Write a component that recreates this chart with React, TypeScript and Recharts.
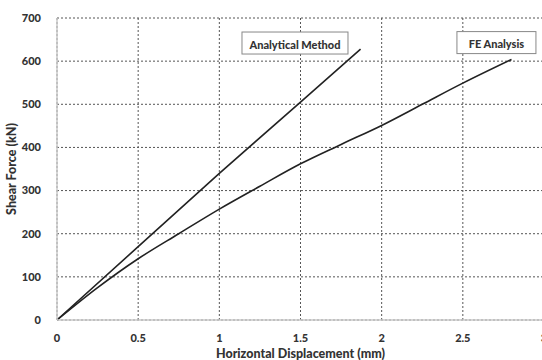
import { LineChart, Line, XAxis, YAxis, CartesianGrid, ReferenceDot } from "recharts";

// displacement (mm) / shear force (kN)
const analyticalX = [0, 0.5, 1, 1.5, 1.87];
const analyticalY = [0, 170, 340, 505, 628];
const feX = [0, 0.25, 0.5, 0.75, 1, 1.25, 1.5, 1.75, 2, 2.25, 2.5, 2.8];
const feY = [0, 75, 142, 200, 257, 310, 362, 407, 451, 500, 549, 604];

const xTicks = [0, 0.5, 1, 1.5, 2, 2.5, 3];
const yTicks = [0, 100, 200, 300, 400, 500, 600, 700];

const seriesNames = ["Analytical Method", "FE Analysis"];

const analytical = analyticalX.map((x, i) => ({ x, y: analyticalY[i] }));
const fe = feX.map((x, i) => ({ x, y: feY[i] }));

// where the label boxes sit, in data units
const boxAt = [
  { x: 1.466, y: 642, w: 106 },
  { x: 2.707, y: 643, w: 79 },
];

const FONT = "Lato, 'Open Sans', sans-serif";
const INK = "#333";

// Boxed series label drawn around a reference point
const boxLabel = (text: string, w: number) => (props: any) => {
  const { viewBox } = props;
  const cx = viewBox.x + (viewBox.width || 0) / 2;
  const cy = viewBox.y + (viewBox.height || 0) / 2;
  const h = 22;
  return (
    <g>
      <rect x={cx - w / 2} y={cy - h / 2} width={w} height={h} fill="#fff" stroke="#888" strokeWidth={1} />
      <text
        x={cx}
        y={cy + 1}
        textAnchor="middle"
        dominantBaseline="central"
        fontFamily={FONT}
        fontWeight={900}
        fontSize={11}
        fill={INK}
      >
        {text}
      </text>
    </g>
  );
};

export default function App() {
  return (
    <div style={{ position: "absolute", left: 0, top: 0, background: "#fff" }}>
      <LineChart width={560} height={360} margin={{ top: 18, right: 16, bottom: 0, left: 0 }}>
        <CartesianGrid stroke="#555" strokeDasharray="2 2" strokeWidth={1} />
        <XAxis
          type="number"
          dataKey="x"
          domain={[0, 3]}
          ticks={xTicks}
          allowDataOverflow
          height={40}
          axisLine={{ stroke: "#c8c8c8", strokeWidth: 1.5 }}
          tickLine={false}
          tick={{ fill: INK, fontFamily: FONT, fontWeight: 900, fontSize: 11 }}
          tickMargin={8}
          label={{
            value: "Horizontal Displacement (mm)",
            position: "insideBottom",
            offset: 2,
            fill: INK,
            fontFamily: FONT,
            fontWeight: 900,
            fontSize: 12.5,
          }}
        />
        <YAxis
          type="number"
          dataKey="y"
          domain={[0, 700]}
          ticks={yTicks}
          width={57}
          axisLine={{ stroke: "#c8c8c8", strokeWidth: 1.5 }}
          tickLine={false}
          tick={{ fill: INK, fontFamily: FONT, fontWeight: 900, fontSize: 11 }}
          tickMargin={10}
          label={{
            value: "Shear Force (kN)",
            angle: -90,
            position: "insideLeft",
            offset: 12,
            style: { textAnchor: "middle" },
            fill: INK,
            fontFamily: FONT,
            fontWeight: 900,
            fontSize: 12.5,
          }}
        />
        <Line
          data={analytical}
          dataKey="y"
          name={seriesNames[0]}
          stroke="#222"
          strokeWidth={1.6}
          dot={false}
          isAnimationActive={false}
        />
        <Line
          data={fe}
          dataKey="y"
          name={seriesNames[1]}
          type="monotone"
          stroke="#222"
          strokeWidth={1.6}
          dot={false}
          isAnimationActive={false}
        />
        {boxAt.map((b, i) => (
          <ReferenceDot
            key={i}
            x={b.x}
            y={b.y}
            r={0}
            fill="none"
            stroke="none"
            label={boxLabel(seriesNames[i], b.w)}
          />
        ))}
      </LineChart>
    </div>
  );
}
